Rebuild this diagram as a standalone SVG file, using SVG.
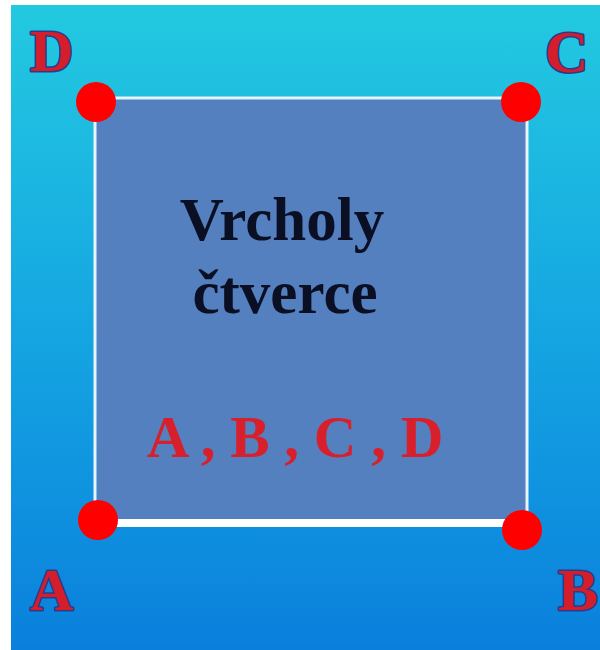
<svg xmlns="http://www.w3.org/2000/svg" width="600" height="650" viewBox="0 0 600 650">
<defs>
<linearGradient id="bg" x1="0" y1="0" x2="0" y2="1">
<stop offset="0" stop-color="#23c9e0"/>
<stop offset="0.5" stop-color="#15a6e2"/>
<stop offset="1" stop-color="#0a80dc"/>
</linearGradient>
</defs>
<style>
.lbl{font-family:"Liberation Serif",serif;font-weight:bold;font-size:60px;fill:#d41e2c;stroke:#283c8c;stroke-width:3;paint-order:stroke;stroke-linejoin:round}
.dot{fill:#ff0000}
.title{font-family:"Liberation Serif",serif;font-weight:bold;font-size:61px;fill:#0a0f24;text-anchor:middle}
.list{font-family:"Liberation Serif",serif;font-weight:bold;font-size:59px;fill:#d81f2c;text-anchor:middle}
</style>
<rect width="600" height="650" fill="#ffffff"/>
<rect x="11" y="5" width="589" height="645" fill="url(#bg)"/>
<g id="square">
<polygon points="95,98 527,98 527,522 97,522" fill="#5580bf"/>
</g>
<g id="connectors">
<line x1="95" y1="98" x2="527" y2="98" stroke="#e8f4ff" stroke-width="3"/>
<line x1="95" y1="98" x2="95" y2="522" stroke="#e8f4ff" stroke-width="3"/>
<line x1="527" y1="98" x2="527" y2="524" stroke="#e8f4ff" stroke-width="3"/>
<line x1="97" y1="523" x2="522" y2="523" stroke="#ffffff" stroke-width="8"/>
</g>
<g id="title">
<text class="title" x="282" y="240">Vrcholy</text>
<text class="title" x="285" y="313">čtverce</text>
</g>
<g id="list">
<text class="list" x="295" y="457">A , B , C , D</text>
</g>
<g id="vertex-D">
<circle class="dot" cx="96" cy="102" r="20"/>
<text class="lbl" x="30" y="71">D</text>
</g>
<g id="vertex-C">
<circle class="dot" cx="521" cy="102" r="20"/>
<text class="lbl" x="545" y="72">C</text>
</g>
<g id="vertex-A">
<circle class="dot" cx="98" cy="520" r="20"/>
<text class="lbl" x="30" y="610">A</text>
</g>
<g id="vertex-B">
<circle class="dot" cx="522" cy="530" r="20"/>
<text class="lbl" x="558" y="610">B</text>
</g>
</svg>
